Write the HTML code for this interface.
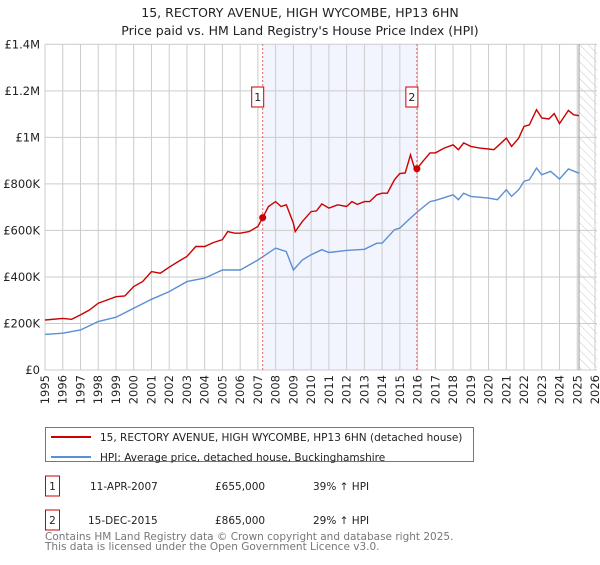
<!DOCTYPE html>
<html><head><meta charset="utf-8"><style>
body{margin:0;background:#fff;font-family:"Liberation Sans","DejaVu Sans",sans-serif}
svg text{font-family:"DejaVu Sans","Liberation Sans",sans-serif}
</style></head><body>
<svg id="c" width="600" height="560" viewBox="0 0 600 560" xmlns="http://www.w3.org/2000/svg">
<text x="300" y="17" text-anchor="middle" font-size="12.5" fill="#222">15, RECTORY AVENUE, HIGH WYCOMBE, HP13 6HN</text>
<text x="300" y="35" text-anchor="middle" font-size="12.5" fill="#222">Price paid vs. HM Land Registry's House Price Index (HPI)</text>
<defs><pattern id="h" width="6" height="6" patternUnits="userSpaceOnUse" patternTransform="rotate(-45)"><line x1="0" y1="0" x2="0" y2="6" stroke="#ccc" stroke-width="1"/></pattern></defs>
<g id="plot"></g>
<rect x="45.5" y="427.5" width="428" height="34" fill="#fff" stroke="#777"/>
<line x1="51" y1="437" x2="91" y2="437" stroke="#cc0000" stroke-width="2"/>
<text x="100" y="441" font-size="10.5" fill="#222">15, RECTORY AVENUE, HIGH WYCOMBE, HP13 6HN (detached house)</text>
<line x1="51" y1="457" x2="91" y2="457" stroke="#5b8fd4" stroke-width="2"/>
<text x="100" y="461" font-size="10.5" fill="#222">HPI: Average price, detached house, Buckinghamshire</text>
<g font-size="10.5" fill="#222">
<rect x="45.5" y="476" width="14" height="20" fill="none" stroke="#cc0000"/>
<text x="52.5" y="490" text-anchor="middle">1</text>
<text x="90" y="490">11-APR-2007</text><text x="215" y="490">£655,000</text><text x="313" y="490">39% ↑ HPI</text>
<rect x="45.5" y="510" width="14" height="20" fill="none" stroke="#cc0000"/>
<text x="52.5" y="524" text-anchor="middle">2</text>
<text x="88" y="524">15-DEC-2015</text><text x="215" y="524">£865,000</text><text x="313" y="524">29% ↑ HPI</text>
</g>
<text x="45" y="540" font-size="10.5" fill="#777">Contains HM Land Registry data © Crown copyright and database right 2025.</text>
<text x="45" y="550" font-size="10.5" fill="#777">This data is licensed under the Open Government Licence v3.0.</text>
</svg>
<script>
const yTicks=[0,200000,400000,600000,800000,1000000,1200000,1400000];
const yTickLabels=["£0","£200K","£400K","£600K","£800K","£1M","£1.2M","£1.4M"];
const years=[1995,1996,1997,1998,1999,2000,2001,2002,2003,2004,2005,2006,2007,2008,2009,2010,2011,2012,2013,2014,2015,2016,2017,2018,2019,2020,2021,2022,2023,2024,2025,2026];
const redT=[1995,1996,1996.5,1997,1997.5,1998,1998.5,1999,1999.5,2000,2000.5,2001,2001.5,2002,2002.5,2003,2003.5,2004,2004.5,2005,2005.3,2005.7,2006,2006.5,2007,2007.27,2007.6,2008,2008.3,2008.6,2009,2009.1,2009.5,2010,2010.3,2010.6,2011,2011.5,2012,2012.3,2012.6,2013,2013.3,2013.7,2014,2014.3,2014.7,2015,2015.3,2015.6,2015.8,2015.96,2016.3,2016.7,2017,2017.5,2018,2018.3,2018.6,2019,2019.5,2020,2020.3,2020.6,2021,2021.3,2021.7,2022,2022.3,2022.7,2023,2023.4,2023.7,2024,2024.5,2024.8,2025.1];
const redV=[215,222,218,237,258,287,301,315,318,359,380,423,416,442,466,488,531,531,548,560,595,588,588,595,617,655,703,724,703,710,631,595,638,681,684,714,696,710,703,724,712,724,724,753,760,760,818,844,847,925,875,865,897,933,933,954,968,947,976,961,954,950,947,968,997,961,997,1047,1054,1119,1083,1079,1102,1059,1116,1097,1093];
const hpiT=[1995,1996,1997,1998,1999,2000,2001,2002,2003,2004,2005,2006,2007,2008,2008.6,2009,2009.5,2010,2010.6,2011,2012,2013,2013.7,2014,2014.7,2015,2015.5,2016,2016.7,2017,2018,2018.3,2018.6,2019,2020,2020.5,2021,2021.3,2021.7,2022,2022.3,2022.7,2023,2023.5,2024,2024.5,2025.1];
const hpiV=[153,158,172,208,227,265,304,337,380,395,430,430,473,524,509,430,473,495,517,505,514,519,545,545,603,610,646,681,724,729,753,732,760,746,739,732,775,746,775,811,818,868,839,854,821,864,846];
const sales=[{t:2007.27,v:655000,n:"1"},{t:2015.96,v:865000,n:"2"}];
const X=t=>45+(t-1995)*(550/31);
const Y=v=>370-v/1400000*325.7;
const g=document.getElementById('plot');
const NS="http://www.w3.org/2000/svg";
function mk(tag,at,parent){const e=document.createElementNS(NS,tag);for(const k in at)e.setAttribute(k,at[k]);(parent||g).appendChild(e);return e;}
let r=mk('rect',{x:X(sales[0].t),y:Y(1400000),width:X(sales[1].t)-X(sales[0].t),height:Y(0)-Y(1400000),fill:'#f2f5fd'});


let hz=mk('rect',{x:X(2025.1),y:Y(1400000),width:597-X(2025.1),height:Y(0)-Y(1400000),fill:'url(#h)'});


years.forEach(y=>{let l=mk('line',{x1:X(y),x2:X(y),y1:Y(0),y2:Y(1400000),stroke:'#ccc','stroke-width':1});


let t=mk('text',{x:0,y:0,'font-size':11.5,fill:'#222','text-anchor':'end',transform:`translate(${X(y)+4},${Y(0)+5}) rotate(-90)`});
t.textContent=y;

});
yTicks.forEach((v,i)=>{let l=mk('line',{x1:X(1995),x2:597,y1:Y(v),y2:Y(v),stroke:'#ccc','stroke-width':1});


let t=mk('text',{x:40,y:Y(v)+4,'font-size':11.5,fill:'#222','text-anchor':'end'});
t.textContent=yTickLabels[i];

});
let bl=mk('line',{x1:X(2025.1),x2:X(2025.1),y1:Y(0),y2:Y(1400000),stroke:'#999','stroke-width':1});


function path(T,V,col,name){let d=T.map((t,i)=>(i?'L':'M')+X(t).toFixed(1)+','+Y(V[i]*1000).toFixed(1)).join('');
let p=mk('path',{d:d,fill:'none',stroke:col,'stroke-width':1.4});

}
path(hpiT,hpiV,'#5b8fd4','hpi-line');
path(redT,redV,'#cc0000','property-line');
sales.forEach(s=>{let l=mk('line',{x1:X(s.t),x2:X(s.t),y1:Y(0),y2:Y(1400000),stroke:'#e06666','stroke-width':1,'stroke-dasharray':'2,2'});


let c=mk('circle',{cx:X(s.t),cy:Y(s.v),r:3.5,fill:'#cc0000'});


let b=mk('rect',{x:X(s.t)-11,y:87,width:12,height:20,fill:'#fff',stroke:'#cc0000'});


let t=mk('text',{x:X(s.t)-5,y:101,'font-size':11,fill:'#222','text-anchor':'middle'});
t.textContent=s.n;

});
</script>
</body></html>
